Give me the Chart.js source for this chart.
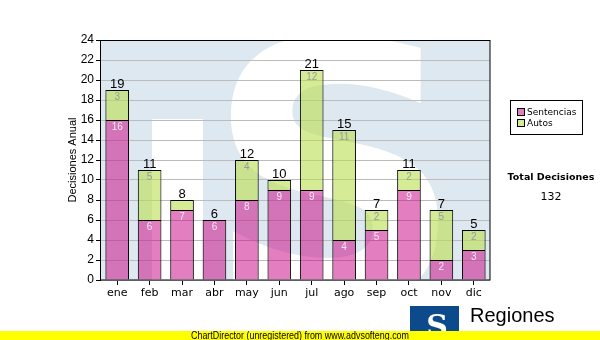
<!DOCTYPE html>
<html>
<head>
<meta charset="utf-8">
<script src="https://cdn.jsdelivr.net/npm/chart.js@4/dist/chart.umd.min.js"></script>
<style>
  html, body { margin: 0; padding: 0; background: #ffffff; }
  #wrap { width: 600px; height: 340px; position: relative; }
</style>
</head>
<body>
<div id="wrap"><canvas id="c" width="600" height="340"></canvas></div>
<script>
// Monthly decisions, split by type
const categories = ['ene', 'feb', 'mar', 'abr', 'may', 'jun', 'jul', 'ago', 'sep', 'oct', 'nov', 'dic'];
const sentencias = [16, 6, 7, 6, 8, 9, 9, 4, 5, 9, 2, 3];
const autos = [3, 5, 1, 0, 4, 1, 12, 11, 2, 2, 5, 2];
const seriesNames = ['Sentencias', 'Autos'];
const yMax = 24;
const yStep = 2;
const axisTitle = 'Decisiones Anual';
const totalTitle = 'Total Decisiones';
const brandName = 'Regiones';
const footerText = 'ChartDirector (unregistered) from www.advsofteng.com';

const totals = categories.map((_, i) => sentencias[i] + autos[i]);
const grandTotal = totals.reduce((a, b) => a + b, 0);

const pinkFill = 'rgba(200, 0, 130, 0.5)';
const greenFill = 'rgba(185, 222, 78, 0.6)';

// Plot background: pale blue panel with a large white "S" emblem
const backdrop = {
  id: 'backdrop',
  beforeDraw(chart) {
    const { ctx, chartArea: a } = chart;
    ctx.save();
    ctx.fillStyle = '#ffffff';
    ctx.fillRect(0, 0, chart.width, chart.height);
    ctx.beginPath();
    ctx.rect(a.left, a.top, a.right - a.left, a.bottom - a.top);
    ctx.clip();
    ctx.fillStyle = '#dee8f1';
    ctx.fillRect(a.left, a.top, a.right - a.left, a.bottom - a.top);
    ctx.fillStyle = '#ffffff';
    ctx.fillRect(152, 119, 51, a.bottom - 119);
    ctx.font = 'bold 360px "DejaVu Sans"';
    ctx.textAlign = 'left';
    ctx.textBaseline = 'alphabetic';
    ctx.fillText('S', 205, 302);
    ctx.restore();
  }
};

// Frame around the plot area, drawn above the grid
const frame = {
  id: 'frame',
  beforeDatasetsDraw(chart) {
    const { ctx, chartArea: a } = chart;
    ctx.save();
    ctx.strokeStyle = '#000000';
    ctx.lineWidth = 1;
    ctx.strokeRect(Math.round(a.left) - 0.5, Math.round(a.top) + 0.5,
      Math.round(a.right - a.left) + 0.5, Math.round(a.bottom - a.top) - 0.5);
    ctx.restore();
  }
};

// Segment values inside bars and totals above each stack
const valueLabels = {
  id: 'valueLabels',
  afterDatasetsDraw(chart) {
    const { ctx } = chart;
    ctx.save();
    ctx.textAlign = 'center';
    ctx.textBaseline = 'middle';
    const colors = ['#f6e6f2', '#9a9a9a'];
    chart.data.datasets.forEach((ds, di) => {
      const meta = chart.getDatasetMeta(di);
      meta.data.forEach((bar, i) => {
        const v = ds.data[i];
        if (v < 2) return;
        ctx.font = '10px "Liberation Sans"';
        ctx.fillStyle = colors[di];
        ctx.fillText(String(v), bar.x, bar.y + 7);
      });
    });
    const yScale = chart.scales.y;
    const top = chart.getDatasetMeta(0).data;
    ctx.font = '13px "Liberation Sans"';
    ctx.fillStyle = '#000000';
    ctx.textBaseline = 'alphabetic';
    totals.forEach((t, i) => {
      ctx.fillText(String(t), top[i].x, yScale.getPixelForValue(t) - 2);
    });
    ctx.restore();
  }
};

// Axis title, legend box, total, brand mark and footer strip
const extras = {
  id: 'extras',
  afterDraw(chart) {
    const { ctx, chartArea: a } = chart;
    ctx.save();

    ctx.translate(73, (a.top + a.bottom) / 2);
    ctx.rotate(-Math.PI / 2);
    ctx.font = '11px "Liberation Sans"';
    ctx.fillStyle = '#000000';
    ctx.textAlign = 'center';
    ctx.textBaseline = 'middle';
    ctx.fillText(axisTitle, 0, 0);
    ctx.setTransform(1, 0, 0, 1, 0, 0);

    // legend
    ctx.strokeStyle = '#000000';
    ctx.lineWidth = 1;
    ctx.strokeRect(510.5, 100.5, 72, 34);
    const swatches = ['#e17fc0', '#d5eb95'];
    ctx.font = '9px "DejaVu Sans"';
    ctx.textAlign = 'left';
    ctx.textBaseline = 'middle';
    seriesNames.forEach((name, i) => {
      const y = 112 + i * 11;
      ctx.fillStyle = swatches[i];
      ctx.fillRect(517, y - 4, 8, 8);
      ctx.strokeRect(517.5, y - 3.5, 7, 7);
      ctx.fillStyle = '#000000';
      ctx.fillText(name, 527, y + 0.5);
    });

    // total
    ctx.textAlign = 'center';
    ctx.font = 'bold 9.5px "DejaVu Sans"';
    ctx.fillText(totalTitle, 551, 178);
    ctx.font = '11px "DejaVu Sans"';
    ctx.fillText(String(grandTotal), 551, 197);

    // brand mark
    ctx.fillStyle = '#0d4a8c';
    ctx.fillRect(410, 306, 49, 25);
    ctx.fillStyle = '#ffffff';
    ctx.font = 'bold 30px "DejaVu Serif"';
    ctx.textAlign = 'center';
    ctx.textBaseline = 'alphabetic';
    ctx.fillText('S', 437, 336);
    ctx.fillStyle = '#000000';
    ctx.font = '20px "Liberation Sans"';
    ctx.textAlign = 'left';
    ctx.fillText(brandName, 470, 322);

    // footer strip
    ctx.fillStyle = '#ffff00';
    ctx.fillRect(0, 331, chart.width, 9);
    ctx.fillStyle = '#000000';
    ctx.font = '10px "Liberation Sans"';
    ctx.textAlign = 'center';
    ctx.textBaseline = 'middle';
    ctx.fillText(footerText, 300, 336, 218);

    ctx.restore();
  }
};

new Chart(document.getElementById('c'), {
  type: 'bar',
  data: {
    labels: categories,
    datasets: [
      { label: seriesNames[0], data: sentencias, backgroundColor: pinkFill,
        borderColor: '#000000', borderWidth: 1 },
      { label: seriesNames[1], data: autos, backgroundColor: greenFill,
        borderColor: '#000000', borderWidth: 1 }
    ]
  },
  options: {
    responsive: false,
    animation: false,
    devicePixelRatio: 1,
    layout: { padding: { top: 40, right: 110, left: 0, bottom: 0 } },
    datasets: { bar: { barPercentage: 0.73, categoryPercentage: 1.0 } },
    plugins: { legend: { display: false }, tooltip: { enabled: false } },
    scales: {
      x: {
        stacked: true,
        afterFit(scale) { scale.height = 60; },
        grid: { display: true, drawOnChartArea: false, drawTicks: true, tickLength: 5,
                tickColor: '#000000', offset: false },
        border: { display: false },
        ticks: { color: '#000000', font: { family: '"DejaVu Sans"', size: 11 }, padding: 2 }
      },
      y: {
        stacked: true,
        min: 0, max: yMax,
        afterFit(scale) { scale.width = 101; },
        grid: { color: '#bcbcbc', lineWidth: 1, drawTicks: true, tickLength: 5, tickColor: '#000000' },
        border: { display: false },
        ticks: { stepSize: yStep, color: '#000000', font: { family: '"Liberation Sans"', size: 12 }, padding: 2 }
      }
    }
  },
  plugins: [backdrop, frame, valueLabels, extras]
});
</script>
</body>
</html>
